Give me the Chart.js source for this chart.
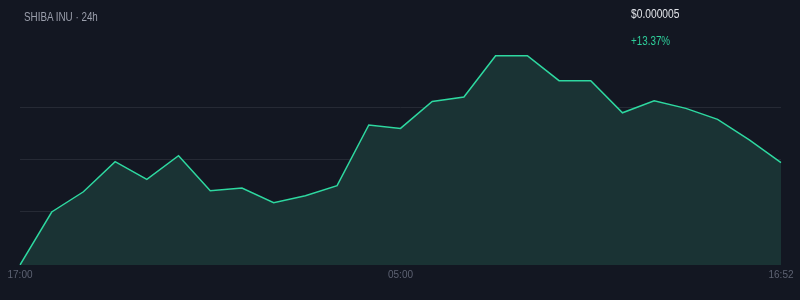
<!DOCTYPE html>
<html>
<head>
<meta charset="utf-8">
<script src="https://cdn.jsdelivr.net/npm/chart.js@4/dist/chart.umd.min.js"></script>
<style>
  html, body { margin: 0; padding: 0; background: #131722; }
  #wrap { position: relative; width: 800px; height: 300px; background: #131722; overflow: hidden; }
  canvas { position: absolute; left: 0; top: 0; }
  .txt { position: absolute; font-family: "Liberation Sans", Arial, sans-serif; white-space: nowrap; line-height: normal; transform: scaleX(0.82); transform-origin: 0 0; }
  #title { left: 24px; top: 10px; font-size: 12px; color: #9a9eab; }
  #price { left: 631px; top: 7px; font-size: 12.5px; color: #e2e4e9; }
  #chg { left: 631px; top: 34px; font-size: 12px; color: #2ecf9b; }
</style>
</head>
<body>
<div id="wrap">
  <canvas id="c" width="800" height="300"></canvas>
  <div class="txt" id="title">SHIBA INU · 24h</div>
  <div class="txt" id="price">$0.000005</div>
  <div class="txt" id="chg">+13.37%</div>
</div>
<script>
const timeLabels = ["17:00","18:00","19:00","20:00","21:00","22:00","23:00","00:00","01:00","02:00","03:00","04:00","05:00","06:00","07:00","08:00","09:00","10:00","11:00","12:00","13:00","14:00","15:00","16:00","16:52"];
const priceValues = [0.000004500,0.000004812,0.000004931,0.000005108,0.000005004,0.000005143,0.000004937,0.000004953,0.000004867,0.000004908,0.000004967,0.000005324,0.000005304,0.000005463,0.000005489,0.000005732,0.000005732,0.000005585,0.000005585,0.000005396,0.000005467,0.000005422,0.000005357,0.000005236,0.000005102];
const shownTickIndexes = [0, 12, 24];
const gridValues = [0.000004816, 0.000005122, 0.000005428];
const yMin = 0.000004500;
const yMax = 0.000005736;

new Chart(document.getElementById('c'), {
  type: 'line',
  data: {
    labels: timeLabels,
    datasets: [{
      data: priceValues,
      borderColor: '#2ed8a0',
      borderWidth: 1.5,
      backgroundColor: '#1a3334',
      fill: 'start',
      pointRadius: 0,
      tension: 0
    }]
  },
  options: {
    responsive: false,
    animation: false,
    events: [],
    layout: { padding: { left: 20, right: 19, top: 55, bottom: 0 } },
    plugins: { legend: { display: false }, tooltip: { enabled: false } },
    scales: {
      x: {
        offset: false,
        grid: { display: false, drawTicks: false, tickLength: 0 },
        border: { display: false },
        ticks: {
          autoSkip: false,
          maxRotation: 0,
          padding: 4,
          color: '#5d6272',
          font: { family: '"Liberation Sans", Arial, sans-serif', size: 10 },
          callback: function(v, i) { return shownTickIndexes.includes(i) ? timeLabels[i] : ''; }
        },
        afterFit: function(s) { s.height = 35; }
      },
      y: {
        display: true,
        min: yMin,
        max: yMax,
        afterBuildTicks: function(s) { s.ticks = gridValues.map(v => ({ value: v })); },
        grid: { color: '#262a35', lineWidth: 1, drawTicks: false },
        border: { display: false },
        ticks: { display: false },
        afterFit: function(s) { s.width = 0; }
      }
    }
  }
});
</script>
</body>
</html>
